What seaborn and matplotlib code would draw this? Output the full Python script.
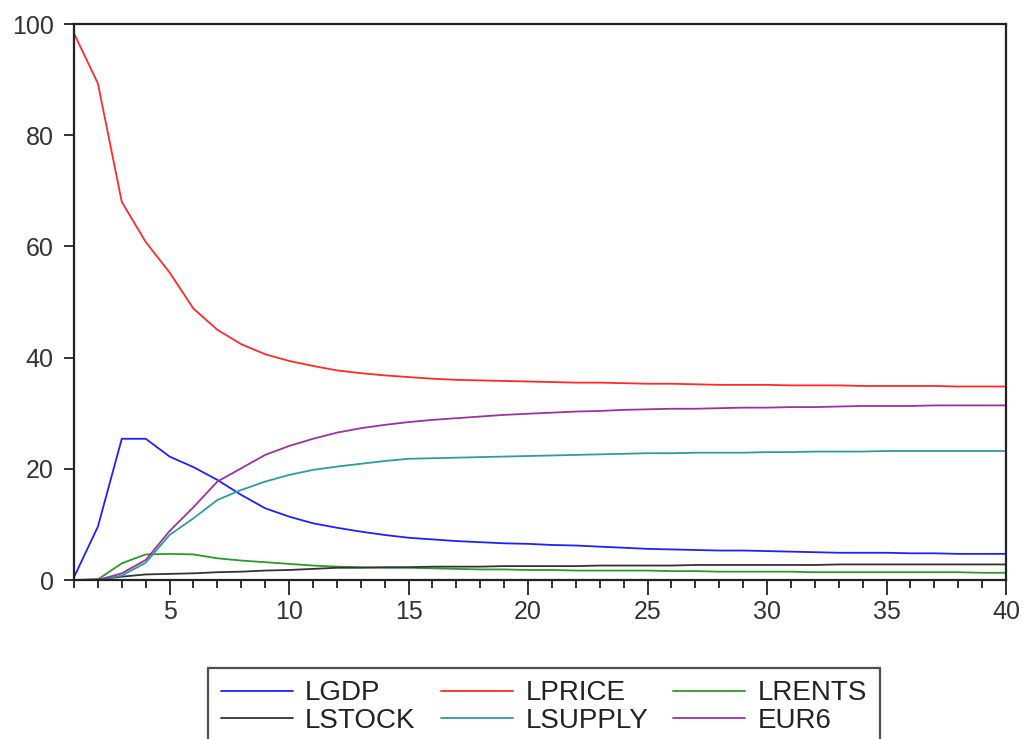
import numpy as np
import pandas as pd
import matplotlib
matplotlib.use("Agg")
import matplotlib.pyplot as plt
from matplotlib.ticker import MultipleLocator
import seaborn as sns

# === Data: variance decomposition, periods 1..40 ===
periods = list(range(1, 41))
series_names = ["LGDP", "LPRICE", "LRENTS", "LSTOCK", "LSUPPLY", "EUR6"]

lgdp = [0.5, 9.6, 25.4, 25.4, 22.2, 20.3, 18.0, 15.3, 12.9, 11.4,
        10.2, 9.4, 8.7, 8.1, 7.6, 7.3, 7.0, 6.8, 6.6, 6.5,
        6.3, 6.2, 6.0, 5.8, 5.6, 5.5, 5.4, 5.3, 5.3, 5.2,
        5.1, 5.0, 4.9, 4.9, 4.9, 4.8, 4.8, 4.7, 4.7, 4.7]
lprice = [98.3, 89.3, 68.0, 60.8, 55.3, 48.8, 45.0, 42.4, 40.6, 39.4,
          38.5, 37.7, 37.2, 36.8, 36.5, 36.2, 36.0, 35.9, 35.8, 35.7,
          35.6, 35.5, 35.5, 35.4, 35.3, 35.3, 35.2, 35.1, 35.1, 35.1,
          35.0, 35.0, 35.0, 34.9, 34.9, 34.9, 34.9, 34.8, 34.8, 34.8]
lrents = [0.0, 0.1, 3.0, 4.6, 4.7, 4.6, 3.9, 3.5, 3.2, 2.9,
          2.6, 2.4, 2.3, 2.2, 2.2, 2.1, 2.0, 1.9, 1.9, 1.8,
          1.8, 1.7, 1.7, 1.7, 1.7, 1.6, 1.6, 1.5, 1.5, 1.5,
          1.5, 1.4, 1.4, 1.4, 1.4, 1.4, 1.4, 1.4, 1.3, 1.3]
lstock = [0.0, 0.1, 0.6, 1.0, 1.1, 1.2, 1.4, 1.5, 1.7, 1.8,
          2.0, 2.2, 2.2, 2.3, 2.3, 2.4, 2.4, 2.4, 2.5, 2.5,
          2.5, 2.5, 2.6, 2.6, 2.6, 2.6, 2.7, 2.7, 2.7, 2.7,
          2.7, 2.7, 2.8, 2.8, 2.8, 2.8, 2.8, 2.8, 2.8, 2.8]
lsupply = [0.0, 0.0, 0.8, 3.1, 8.1, 11.1, 14.4, 16.2, 17.7, 18.9,
           19.8, 20.4, 20.9, 21.4, 21.8, 21.9, 22.0, 22.1, 22.2, 22.3,
           22.4, 22.5, 22.6, 22.7, 22.8, 22.8, 22.9, 22.9, 22.9, 23.0,
           23.0, 23.1, 23.1, 23.1, 23.2, 23.2, 23.2, 23.2, 23.2, 23.2]
eur6 = [0.0, 0.0, 1.2, 3.6, 8.8, 13.1, 17.7, 20.1, 22.5, 24.1,
        25.4, 26.5, 27.3, 27.9, 28.4, 28.8, 29.1, 29.4, 29.7, 29.9,
        30.1, 30.3, 30.4, 30.6, 30.7, 30.8, 30.8, 30.9, 31.0, 31.0,
        31.1, 31.1, 31.2, 31.3, 31.3, 31.3, 31.4, 31.4, 31.4, 31.4]

colors = ["#2020ff", "#ff2a2a", "#2a9a2a", "#333333", "#2f9c9c", "#9933a0"]

# === Long-form table ===
wide = pd.DataFrame({"period": periods, "LGDP": lgdp, "LPRICE": lprice,
                     "LRENTS": lrents, "LSTOCK": lstock,
                     "LSUPPLY": lsupply, "EUR6": eur6})
df = wide.melt(id_vars="period", var_name="series", value_name="value")

# === Style ===
sns.set_style("ticks")
plt.rcParams["font.family"] = ["Liberation Sans", "DejaVu Sans"]
text_col = "#333333"

fig = plt.figure(figsize=(10.23, 7.39), dpi=100)
ax = fig.add_axes([74 / 1023, 1 - 580 / 739, 932 / 1023, 556 / 739])

sns.lineplot(data=df, x="period", y="value", hue="series",
             hue_order=series_names, palette=colors, linewidth=1.3,
             legend=False, ax=ax)

ax.set_xlim(1, 40)
ax.set_ylim(0, 100)
ax.set_xlabel("")
ax.set_ylabel("")
ax.xaxis.set_major_locator(MultipleLocator(5))
ax.xaxis.set_minor_locator(MultipleLocator(1))
ax.yaxis.set_major_locator(MultipleLocator(20))

for side in ["left", "right", "top", "bottom"]:
    ax.spines[side].set_visible(True)
    ax.spines[side].set_color("#222222")
    ax.spines[side].set_linewidth(1.6)

ax.tick_params(axis="x", which="major", direction="out", length=10.5,
               width=1.3, color="#222222", labelsize=18, labelcolor=text_col, pad=4)
ax.tick_params(axis="x", which="minor", direction="out", length=6,
               width=1.3, color="#222222")
ax.tick_params(axis="y", which="major", direction="out", length=7.5,
               width=1.3, color="#222222", labelsize=18, labelcolor=text_col, pad=7)

# === Legend below the axes (row-wise order, matplotlib fills by column) ===
lines = dict(zip(series_names, ax.lines[:len(series_names)]))
leg_order = ["LGDP", "LSTOCK", "LPRICE", "LSUPPLY", "LRENTS", "EUR6"]
leg = fig.legend([lines[n] for n in leg_order], leg_order, ncol=3,
                 loc="upper left",
                 bbox_to_anchor=(208 / 1023, 1 - 668 / 739),
                 bbox_transform=fig.transFigure, borderaxespad=0,
                 fontsize=20, frameon=True, fancybox=False, shadow=False,
                 handlelength=2.6, handletextpad=0.45, columnspacing=0.9,
                 labelspacing=0.05, borderpad=0.45)
leg.get_frame().set_edgecolor("#222222")
leg.get_frame().set_linewidth(1.6)
for t in leg.get_texts():
    t.set_color("#222222")

fig.savefig("out.png", dpi=100)
plt.close(fig)
